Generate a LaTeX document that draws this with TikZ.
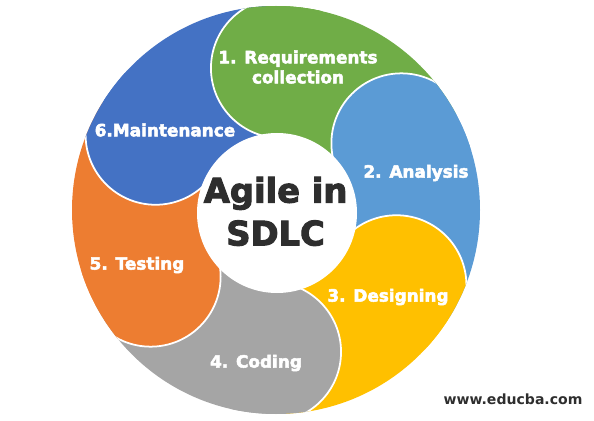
\documentclass[tikz,border=0pt]{standalone}
\usepackage{fontspec}
\setmainfont{DejaVu Sans}
\newfontfamily\heavyfont[FakeBold=3]{DejaVu Sans Bold}
\definecolor{reqgreen}{HTML}{70AD47}
\definecolor{anablue}{HTML}{5B9BD5}
\definecolor{desyellow}{HTML}{FFC000}
\definecolor{codgray}{HTML}{A5A5A5}
\definecolor{tesorange}{HTML}{ED7D31}
\definecolor{mntblue}{HTML}{4472C4}
\definecolor{hubtext}{HTML}{2E2E2E}

\begin{document}
\begin{tikzpicture}[line width=2.5pt,
  phase/.style={text=white,font=\heavyfont\fontsize{24}{28.5}\selectfont,align=center,inner sep=0pt}]
\useasboundingbox (0,0) rectangle (29.7,21);
\coordinate (c) at (13.8,10.5);
% ---------- six pieces: head circle, then tail wedge over its back half ----------
\foreach \col [count=\i from 0] in {reqgreen,anablue,desyellow,codgray,tesorange,mntblue}{
  \pgfmathsetmacro{\a}{88-60*\i}
  \begin{scope}
    \clip (c) circle (10.2);
    \filldraw[fill=\col,draw=white] ([shift={(c)}]\a:7.1) circle (3.5);
    \fill[\col] (c) -- ([shift={(c)}]\a:10.3) arc[start angle=\a,end angle=\a-60,radius=10.3] -- cycle;
  \end{scope}
}
% green head once more, over the tail of the last piece
\coordinate (reqhead) at ([shift={(c)}]88:7.1);
\begin{scope}
  \clip (c) circle (10.2);
  \fill[reqgreen] (reqhead) circle (3.5);
  \draw[white] ([shift={(reqhead)}]88:3.5) arc[start angle=88,end angle=268,radius=3.5];
\end{scope}
% ---------- hub ----------
\node[circle,fill=white,minimum size=8cm,inner sep=0pt] (hub) at (13.85,10.35) {};
\node[text=hubtext,font=\heavyfont\fontsize{48}{61}\selectfont,align=center] (title) at (13.78,10.43) {Agile in\\SDLC};
% ---------- labels ----------
\node[phase] (req) at (14.9,17.65) {1. Requirements\\collection};
\node[phase] (ana) at (20.8,12.35) {2. Analysis};
\node[phase] (des) at (19.4,6.15) {3. Designing};
\node[phase] (cod) at (12.8,2.85) {4. Coding};
\node[phase] (tes) at (6.85,7.75) {5. Testing};
\node[phase] (mnt) at (8.25,14.5) {6.Maintenance};
\node[text=hubtext,font=\bfseries\fontsize{20}{24}\selectfont] (url) at (25.65,1.05) {www.educba.com};
\end{tikzpicture}
\end{document}
